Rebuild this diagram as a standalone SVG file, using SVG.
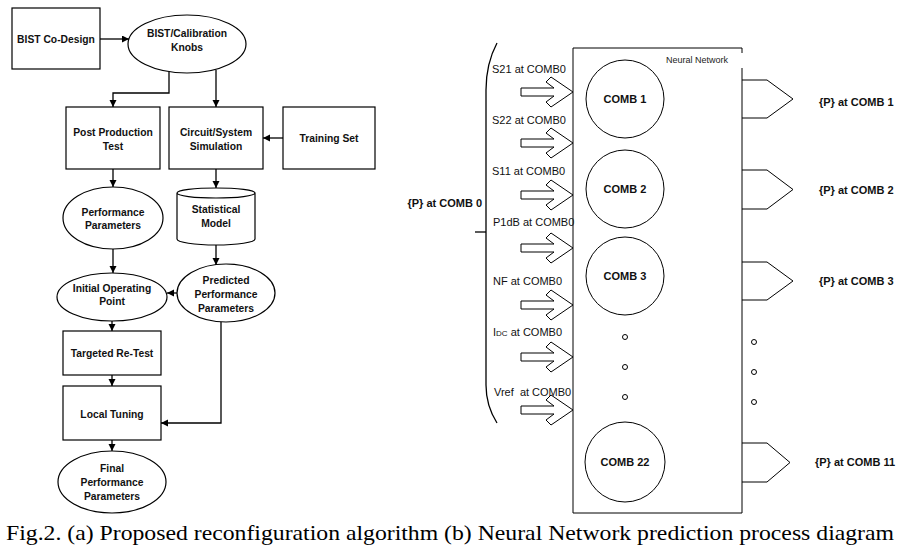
<svg xmlns="http://www.w3.org/2000/svg" width="900" height="549" viewBox="0 0 900 549">
<style>
.s{fill:#fff;stroke:#000;stroke-width:1.2}
.c{fill:none;stroke:#000;stroke-width:1.3}
.o{fill:none;stroke:#000;stroke-width:1}
.b{font-family:"Liberation Sans",Arial,sans-serif;font-weight:bold;font-size:10.3px;text-anchor:middle;fill:#111}
.r{font-family:"Liberation Sans",Arial,sans-serif;font-size:11px;fill:#111}
.rb{font-family:"Liberation Sans",Arial,sans-serif;font-weight:bold;font-size:11px;fill:#111}
.ba{fill:#fff;stroke:#000;stroke-width:1}
</style>
<defs>
<marker id="ah" markerUnits="userSpaceOnUse" markerWidth="8" markerHeight="8" refX="7" refY="3.5" orient="auto">
<path d="M0,0 L7,3.5 L0,7 z" fill="#000"/>
</marker>
<polygon id="inarrow" points="0,-4 33,-4 25,-10 30,-15 52,0 30,15 25,10 33,4 0,4"/>
</defs>

<!-- (a) flow -->
<g id="n-bist-codesign"><rect class="s" x="12" y="8" width="88" height="61"/><text class="b" x="56" y="42.5">BIST Co-Design</text></g>
<g id="n-knobs"><ellipse class="s" cx="187" cy="44" rx="59" ry="29"/><text class="b" x="187" y="37">BIST/Calibration</text><text class="b" x="187" y="51">Knobs</text></g>
<g id="n-postprod"><rect class="s" x="66" y="107" width="94" height="62"/><text class="b" x="113" y="135.5">Post Production</text><text class="b" x="113" y="150">Test</text></g>
<g id="n-circuit"><rect class="s" x="169" y="107" width="94" height="62"/><text class="b" x="216" y="135.5">Circuit/System</text><text class="b" x="216" y="150">Simulation</text></g>
<g id="n-training"><rect class="s" x="283" y="107" width="92" height="62"/><text class="b" x="329" y="141.5">Training Set</text></g>
<g id="n-perf"><ellipse class="s" cx="113" cy="218" rx="50" ry="31"/><text class="b" x="113" y="215.5">Performance</text><text class="b" x="113" y="229">Parameters</text></g>
<g id="n-stat"><path class="s" d="M177,193 A39,5 0 0,1 255,193 L255,239 A39,6 0 0,1 177,239 Z M177,193 A39,5 0 0,0 255,193"/><text class="b" x="216" y="213">Statistical</text><text class="b" x="216" y="226.5">Model</text></g>
<g id="n-initial"><ellipse class="s" cx="112" cy="297" rx="55" ry="24"/><text class="b" x="112" y="291.5">Initial Operating</text><text class="b" x="112" y="305">Point</text></g>
<g id="n-predicted"><ellipse class="s" cx="226" cy="293" rx="49" ry="29"/><text class="b" x="226" y="284">Predicted</text><text class="b" x="226" y="298">Performance</text><text class="b" x="226" y="312">Parameters</text></g>
<g id="n-retest"><rect class="s" x="63" y="331" width="98" height="44"/><text class="b" x="112" y="357">Targeted Re-Test</text></g>
<g id="n-local"><rect class="s" x="63" y="386" width="98" height="54"/><text class="b" x="112" y="417.5">Local Tuning</text></g>
<g id="n-final"><ellipse class="s" cx="112" cy="482" rx="54" ry="31"/><text class="b" x="112" y="472">Final</text><text class="b" x="112" y="486">Performance</text><text class="b" x="112" y="500">Parameters</text></g>

<g id="connectors">
<path class="c" marker-end="url(#ah)" d="M100,39 L129,39"/>
<path class="c" marker-end="url(#ah)" d="M169,72 L169,93 L113,93 L113,107"/>
<path class="c" marker-end="url(#ah)" d="M216,70 L216,107"/>
<path class="c" marker-end="url(#ah)" d="M283,138 L263,138"/>
<path class="c" marker-end="url(#ah)" d="M113,169 L113,187"/>
<path class="c" marker-end="url(#ah)" d="M216,169 L216,188"/>
<path class="c" marker-end="url(#ah)" d="M113,249 L113,273"/>
<path class="c" marker-end="url(#ah)" d="M216,245 L216,265"/>
<path class="c" marker-end="url(#ah)" d="M177,293 L167,293"/>
<path class="c" marker-end="url(#ah)" d="M112,321 L112,331"/>
<path class="c" marker-end="url(#ah)" d="M112,375 L112,386"/>
<path class="c" marker-end="url(#ah)" d="M221,322 L221,423 L161,423"/>
<path class="c" marker-end="url(#ah)" d="M112,440 L112,451"/>
</g>

<!-- (b) neural network -->
<g id="input-brace">
<path class="c" d="M497,43 C489,58 486,72 486,90 L486,385 C486,400 490,412 497,423"/>
<path class="c" d="M475,232 L486,232"/>
<text class="rb" x="482" y="207" text-anchor="end">{P} at COMB 0</text>
</g>

<g id="nn-box">
<path class="o" d="M742,68 L742,513 L573,513 L573,48 L742,48 L742,53"/>
<text x="666" y="63" style="font-family:'Liberation Sans',Arial,sans-serif;font-size:9px;fill:#222">Neural Network</text>
</g>

<g id="inputs">
<text class="r" x="492" y="73">S21 at COMB0</text>
<use href="#inarrow" class="ba" x="521" y="92"/>
<text class="r" x="492" y="124">S22 at COMB0</text>
<use href="#inarrow" class="ba" x="521" y="143"/>
<text class="r" x="492" y="175">S11 at COMB0</text>
<use href="#inarrow" class="ba" x="521" y="195"/>
<text class="r" x="493" y="226">P1dB at COMB0</text>
<use href="#inarrow" class="ba" x="521" y="248"/>
<text class="r" x="493" y="285">NF at COMB0</text>
<use href="#inarrow" class="ba" x="521" y="305"/>
<text class="r" x="493" y="336">I<tspan font-size="8">DC</tspan> at COMB0</text>
<use href="#inarrow" class="ba" x="521" y="357"/>
<text class="r" x="494" y="396" xml:space="preserve">Vref  at COMB0</text>
<use href="#inarrow" class="ba" x="521" y="410"/>
</g>

<g id="comb1"><circle class="o" cx="625" cy="99" r="39"/><text class="rb" x="625" y="103" text-anchor="middle">COMB 1</text></g>
<g id="comb2"><circle class="o" cx="625" cy="189" r="39"/><text class="rb" x="625" y="193" text-anchor="middle">COMB 2</text></g>
<g id="comb3"><circle class="o" cx="625" cy="276" r="39"/><text class="rb" x="625" y="280" text-anchor="middle">COMB 3</text></g>
<g id="comb22"><circle class="o" cx="625" cy="462" r="40"/><text class="rb" x="625" y="466" text-anchor="middle">COMB 22</text></g>

<g id="dots">
<circle class="o" cx="625" cy="337" r="2.5"/>
<circle class="o" cx="625" cy="367" r="2.5"/>
<circle class="o" cx="625" cy="397" r="2.5"/>
<circle class="o" cx="754" cy="342" r="2.5"/>
<circle class="o" cx="754" cy="372" r="2.5"/>
<circle class="o" cx="754" cy="402" r="2.5"/>
</g>

<g id="outputs">
<path class="o" d="M742,80 L767,80 L793,99 L767,118 L742,118"/>
<text class="rb" x="819" y="105.5">{P} at COMB 1</text>
<path class="o" d="M742,170 L767,170 L793,189.5 L767,209 L742,209"/>
<text class="rb" x="819" y="194">{P} at COMB 2</text>
<path class="o" d="M742,262 L767,262 L793,281 L767,300 L742,300"/>
<text class="rb" x="819" y="285">{P} at COMB 3</text>
<path class="o" d="M742,443 L767,443 L790,462.5 L767,482 L742,482"/>
<text class="rb" x="815" y="466">{P} at COMB 11</text>
</g>

<text id="caption" x="6" y="540" textLength="888" lengthAdjust="spacingAndGlyphs" style="font-family:'Liberation Serif','Times New Roman',serif;font-size:22px;fill:#000">Fig.2. (a) Proposed reconfiguration algorithm (b) Neural Network prediction process diagram</text>
</svg>
